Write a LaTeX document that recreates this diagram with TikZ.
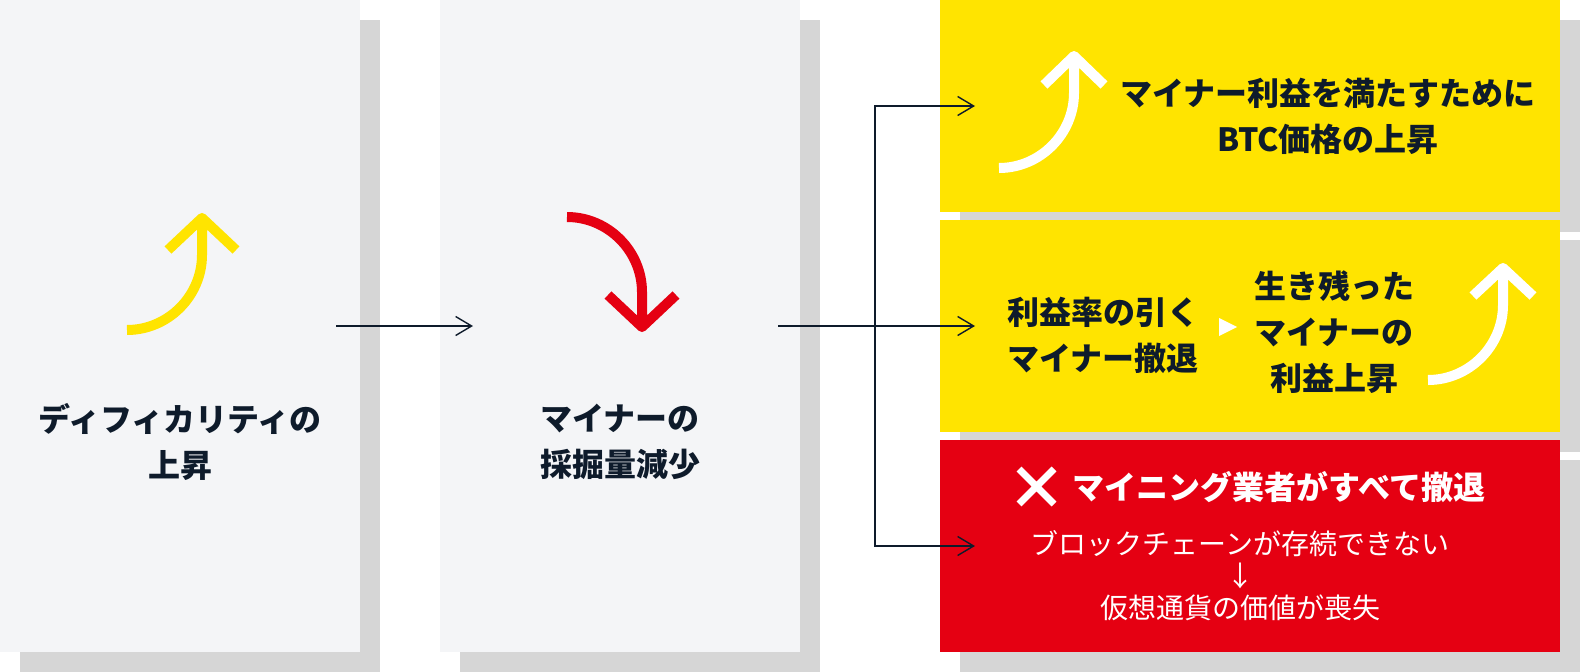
\documentclass[tikz,border=0pt]{standalone}
\usepackage{fontspec}
\setmainfont{Noto Sans CJK JP}
\usepackage{xcolor}
\usetikzlibrary{arrows.meta,shadows}
\definecolor{panelgray}{RGB}{244,245,247}
\definecolor{shadowgray}{RGB}{214,214,214}
\definecolor{signyellow}{RGB}{255,228,0}
\definecolor{alertred}{RGB}{229,0,18}
\definecolor{inknavy}{RGB}{14,27,43}

\begin{document}
\begin{tikzpicture}[
    x=1pt, y=-1pt,
    panel/.style={fill=#1, anchor=north west, inner sep=0pt, outer sep=0pt,
        general shadow={fill=shadowgray, shadow xshift=20pt, shadow yshift=-20pt}},
    panel/.default=panelgray,
    tall/.style={minimum width=360pt, minimum height=652pt},
    wide/.style={minimum width=620pt, minimum height=212pt},
    bigtext/.style={text=inknavy, align=center, font=\fontsize{32}{46}\selectfont\bfseries},
    subtext/.style={text=white, align=center, font=\fontsize{28}{32}\selectfont},
    flow/.style={inknavy, line width=1.4pt, -{Straight Barb[length=16pt, width=19pt]}},
    curl/.style={#1, line width=10pt, line join=round}
]
    \useasboundingbox (0,0) rectangle (1580,672);

    % Boxes
    \node[panel, tall] (diffbox) at (0,0) {};
    \node[panel, tall] (minebox) at (440,0) {};
    \node[panel=signyellow, wide] (btcbox)  at (940,0) {};
    \node[panel=signyellow, wide] (exitbox) at (940,220) {};
    \node[panel=alertred, wide]   (lossbox) at (940,440) {};

    % Connectors
    \coordinate (fork) at (875,326);
    \draw[flow] ([xshift=-24pt]diffbox.east) -- ([xshift=33pt]minebox.west);
    \draw[flow] ([xshift=-22pt]minebox.east) -- ([xshift=35pt]exitbox.west);
    \draw[flow] (fork) |- ([xshift=35pt]btcbox.west);
    \draw[flow] (fork) |- ([xshift=35pt]lossbox.west);

    % Curved arrows
    \draw[curl=signyellow] (127,330) .. controls (168,330) and (202,296) .. (202,255) -- (202,218)
        (168,250) -- (202,218) -- (236,250);
    \draw[curl=alertred] (567,217) .. controls (608,217) and (642,251) .. (642,292) -- (642,327)
        (608,295) -- (642,327) -- (676,295);
    \draw[curl=white] (999,168) .. controls (1040,168) and (1074,134) .. (1074,93) -- (1074,56)
        (1044,85) -- (1074,56) -- (1104,85);
    \draw[curl=white] (1428,380) .. controls (1469,380) and (1503,346) .. (1503,305) -- (1503,268)
        (1473,296) -- (1503,268) -- (1533,296);

    % Small marks
    \fill[white] (1219,318) -- (1237,327) -- (1219,336) -- cycle;
    \draw[white, line width=7pt] (1019,469) -- (1054,504) (1054,469) -- (1019,504);

    % Labels
    \node[bigtext] (difftxt) at (180,442) {ディフィカリティの\\上昇};
    \node[bigtext] (minetxt) at (620,442) {マイナーの\\採掘量減少};
    \node[bigtext] (btctxt)  at (1328,116) {マイナー利益を満たすために\\BTC価格の上昇};
    \node[bigtext] (exittxt) at (1103,335) {利益率の引く\\マイナー撤退};
    \node[bigtext] (survtxt) at (1334,332) {生き残った\\マイナーの\\利益上昇};
    \node[bigtext, text=white] (wipetxt) at (1279,487) {マイニング業者がすべて撤退};
    \node[subtext] (losstxt) at (1240,576) {ブロックチェーンが存続できない\\↓\\仮想通貨の価値が喪失};

\end{tikzpicture}
\end{document}
